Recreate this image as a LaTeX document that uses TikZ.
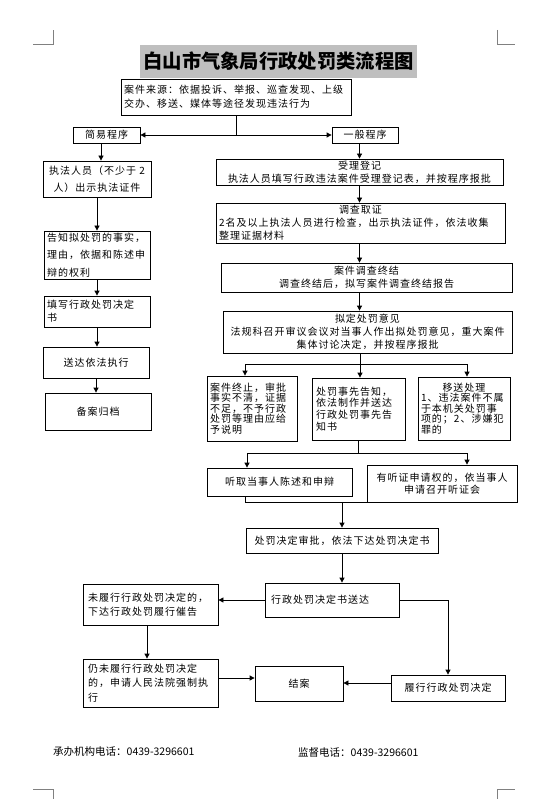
\documentclass[tikz,border=0pt]{standalone}
\usepackage{fontspec}
\newfontfamily\cjk[LetterSpace=10]{Noto Sans CJK SC}
\newfontfamily\cjkn{Noto Sans CJK SC}
\usetikzlibrary{arrows.meta}
\begin{document}
\begin{tikzpicture}[x=1pt,y=-1pt,
  box/.style={draw, line width=0.8pt, inner xsep=3pt, inner ysep=1pt, align=center,
    font=\cjk\fontsize{10}{13}\selectfont},
  lbox/.style={box, align=left},
  conn/.style={line width=0.8pt},
  arr/.style={conn, -{Triangle[length=5pt,width=5pt]}},
  cropline/.style={gray, line width=0.8pt}]
\useasboundingbox (0,0) rectangle (551,799);
% crop marks
\draw[cropline] (33,44) -- (53,44) -- (53,30);
\draw[cropline] (497,30) -- (497,44) -- (515,44);
\draw[cropline] (33,789) -- (53,789) -- (53,799);
\draw[cropline] (497,799) -- (497,789) -- (515,789);
% title
\node[fill=gray!50, minimum width=277pt, minimum height=33pt, inner sep=0pt,
  font=\cjkn\bfseries\fontsize{19.3}{22}\selectfont] (title) at (278.5,61.5) {白山市气象局行政处罚类流程图};
% boxes
\node[lbox, minimum width=230pt, minimum height=36pt, text width=224pt,
  font=\cjk\fontsize{10}{14}\selectfont] (src) at (236,97)
  {案件来源：依据投诉、举报、巡查发现、上级\\交办、移送、媒体等途径发现违法行为};
\node[box, minimum width=67pt, minimum height=16pt] (jianyi) at (106.5,135) {简易程序};
\node[box, minimum width=66pt, minimum height=16pt] (yiban) at (365,135) {一般程序};
\node[box, minimum width=108pt, minimum height=36pt, font=\cjk\fontsize{10}{17}\selectfont] (zhifa) at (97,179)
  {执法人员（不少于 2\\人）出示执法证件};
\node[lbox, minimum width=106pt, minimum height=48pt, text width=100pt,
  font=\cjk\fontsize{10}{17.5}\selectfont] (gaozhi) at (97,255)
  {告知拟处罚的事实，\\理由，依据和陈述申\\辩的权利};
\node[lbox, minimum width=106pt, minimum height=31pt, text width=100pt] (tianxie) at (97,311.5)
  {填写行政处罚决定\\书};
\node[box, minimum width=106pt, minimum height=31pt] (songda) at (96,362.5) {送达依法执行};
\node[box, minimum width=106pt, minimum height=37pt] (beian) at (98,411.5) {备案归档};
\node[box, minimum width=287pt, minimum height=26pt] (shouli) at (359.5,172)
  {受理登记\\执法人员填写行政违法案件受理登记表，并按程序报批};
\node[lbox, minimum width=289pt, minimum height=40pt, text width=283pt] (diaocha) at (360.5,223)
  {\makebox[283pt]{调查取证}\\2名及以上执法人员进行检查，出示执法证件，依法收集\\整理证据材料};
\node[box, minimum width=291pt, minimum height=29pt] (zhongjie) at (366.5,277.5)
  {案件调查终结\\调查终结后，拟写案件调查终结报告};
\node[box, minimum width=289pt, minimum height=42pt] (niding) at (367.5,332)
  {拟定处罚意见\\法规科召开审议会议对当事人作出拟处罚意见，重大案件\\集体讨论决定，并按程序报批};
\node[lbox, minimum width=90pt, minimum height=65pt, text width=84pt,
  font=\cjk\fontsize{10}{10.5}\selectfont] (boxA) at (252,408.5)
  {案件终止，审批\\事实不清，证据\\不足，不予行政\\处罚等理由应给\\予说明};
\node[lbox, minimum width=93pt, minimum height=62pt, text width=85pt,
  font=\cjk\fontsize{10}{11.7}\selectfont] (boxB) at (358.5,409)
  {处罚事先告知，\\依法制作并送达\\行政处罚事先告\\知书};
\node[lbox, minimum width=92pt, minimum height=63pt, text width=86pt,
  font=\cjk\fontsize{10}{10.5}\selectfont] (boxC) at (464,408.5)
  {\makebox[86pt]{移送处理}\\1、违法案件不属\\于本机关处罚事\\项的；2、涉嫌犯\\罪的};
\node[box, minimum width=145pt, minimum height=28pt] (tingqu) at (279.5,482) {听取当事人陈述和申辩};
\node[box, minimum width=150pt, minimum height=37pt, font=\cjk\fontsize{10}{12}\selectfont] (youting) at (442,483.5)
  {有听证申请权的，依当事人\\申请召开听证会};
\node[box, minimum width=192pt, minimum height=25pt] (shenpi) at (342,540.5) {处罚决定审批，依法下达处罚决定书};
\node[lbox, minimum width=134pt, minimum height=34pt, text width=122pt, inner xsep=6pt] (songdashu) at (332,600)
  {行政处罚决定书送达};
\node[lbox, minimum width=135pt, minimum height=41pt, text width=125pt, inner xsep=5pt,
  font=\cjk\fontsize{10}{14}\selectfont] (weilvxing) at (150.5,604.5)
  {未履行行政处罚决定的，\\下达行政处罚履行催告};
\node[lbox, minimum width=135pt, minimum height=48pt, text width=125pt, inner xsep=5pt,
  font=\cjk\fontsize{10}{14.5}\selectfont] (rengwei) at (150.5,683)
  {仍未履行行政处罚决定\\的，申请人民法院强制执\\行};
\node[box, minimum width=88pt, minimum height=35pt] (jiean) at (299,683.5) {结案};
\node[box, minimum width=114pt, minimum height=26pt] (lvxing) at (448,688) {履行行政处罚决定};
% footer
\node[anchor=west, inner sep=0pt, font=\cjkn\fontsize{10.5}{12}\selectfont] (tel1) at (53,752) {承办机构电话：0439-3296601};
\node[anchor=west, inner sep=0pt, font=\cjkn\fontsize{10.5}{12}\selectfont] (tel2) at (298,752) {监督电话：0439-3296601};
% connectors
\coordinate (j) at (src.south |- jianyi.east);
\draw[conn] (src.south) -- (j);
\draw[arr] (j) -- (jianyi.east);
\draw[arr] (j) -- (yiban.west);
\coordinate (a1) at ([xshift=-5.5pt]jianyi.south);
\draw[arr] (a1) -- (a1 |- zhifa.north);
\draw[arr] (zhifa.south) -- (zhifa.south |- gaozhi.north);
\draw[arr] (gaozhi.south) -- (gaozhi.south |- tianxie.north);
\draw[arr] (tianxie.south) -- (tianxie.south |- songda.north);
\draw[arr] (songda.south) -- (songda.south |- beian.north);
\draw[arr] (shouli.north |- yiban.south) -- (shouli.north);
\draw[arr] (shouli.south) -- (shouli.south |- diaocha.north);
\draw[arr] (shouli.south |- diaocha.south) -- (shouli.south |- zhongjie.north);
\draw[arr] (shouli.south |- zhongjie.south) -- (shouli.south |- niding.north);
\coordinate (s1) at (360,364);
\draw[conn] (s1 |- niding.south) -- (s1);
\draw[arr] (s1) -| ([xshift=-7pt]boxA.north);
\draw[arr] (s1) -| ([xshift=3pt]boxC.north);
\draw[arr] (s1) -- (s1 |- boxB.north);
\coordinate (s2) at (358,453);
\draw[conn] (s2 |- boxB.south) -- (s2);
\draw[arr] (s2) -| ([xshift=-32.5pt]tingqu.north);
\draw[arr] (s2) -| ([xshift=25pt]youting.north);
\draw[conn] ([xshift=-34pt]tingqu.south) |- ([xshift=-57pt]youting.south);
\coordinate (m1) at (shenpi.north |- youting.south);
\draw[arr] (m1) -- (shenpi.north);
\draw[arr] (shenpi.south) -- (shenpi.south |- songdashu.north);
\draw[arr] (songdashu.west) -- (songdashu.west -| weilvxing.east);
\coordinate (c1) at ([xshift=-3.5pt]weilvxing.south);
\draw[arr] (c1) -- (c1 |- rengwei.north);
\coordinate (c2) at ([yshift=5pt]rengwei.east);
\draw[arr] (c2) -- (c2 -| jiean.west);
\draw[arr] (songdashu.east) -| (lvxing.north);
\coordinate (c3) at ([yshift=5pt]lvxing.west);
\draw[arr] (c3) -- (c3 -| jiean.east);
\end{tikzpicture}
\end{document}
